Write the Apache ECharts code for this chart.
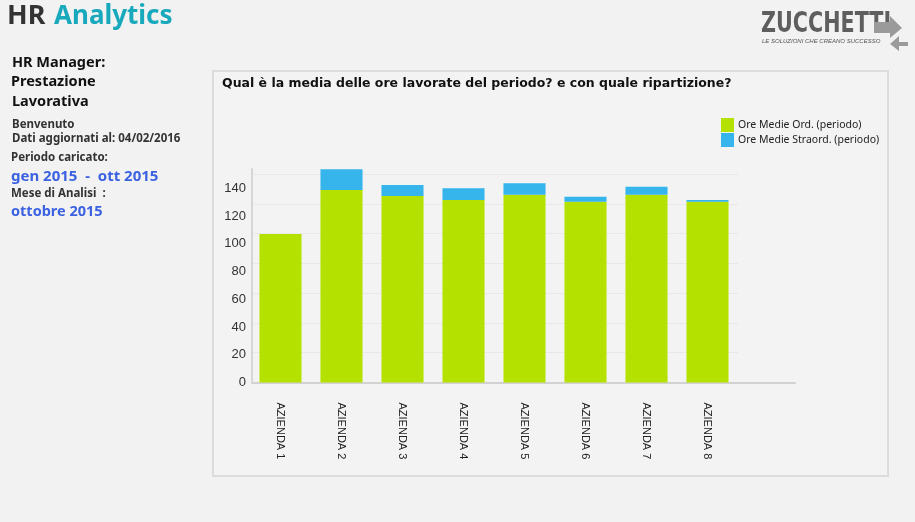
<!DOCTYPE html>
<html>
<head>
<meta charset="utf-8">
<style>
  html, body { margin: 0; padding: 0; background: #f2f2f2; }
  #chart { width: 915px; height: 522px; }
</style>
<script src="https://cdn.jsdelivr.net/npm/echarts@6/dist/echarts.min.js"></script>
</head>
<body>
<div id="chart"></div>
<script>
const categories = ['AZIENDA 1','AZIENDA 2','AZIENDA 3','AZIENDA 4','AZIENDA 5','AZIENDA 6','AZIENDA 7','AZIENDA 8'];
const oreOrdinarie = [107.1, 138.8, 134.5, 131.6, 135.4, 130.4, 135.4, 130.4];
const oreStraordinarie = [0, 15.1, 7.9, 8.6, 8.4, 3.6, 5.8, 1.2];
const seriesNames = ['Ore Medie Ord. (periodo)', 'Ore Medie Straord. (periodo)'];
const yTickInterval = 20;
const yMax = 154;

const chart = echarts.init(document.getElementById('chart'), null, { renderer: 'canvas' });
const sideFont = '"Noto Sans", "Open Sans", sans-serif';
const blue = '#3b62e0';

const option = {
  backgroundColor: '#f2f2f2',
  animation: false,
  graphic: [
    { type: 'rect', z: -10, shape: { x: 213, y: 71, width: 675, height: 405 },
      style: { fill: '#f3f3f3', stroke: '#dcdcdc', lineWidth: 2 } },
    { type: 'text', left: 7, top: 3, style: { text: 'HR', font: 'bold 27px ' + sideFont, fill: '#333333' } },
    { type: 'text', left: 54, top: 4, style: { text: 'Analytics', font: 'bold 26px ' + sideFont, fill: '#19a9bd' } },
    { type: 'text', left: 12, top: 55, style: { text: 'HR Manager:', font: 'bold 14.5px ' + sideFont, fill: '#111' } },
    { type: 'text', left: 11, top: 74, style: { text: 'Prestazione', font: 'bold 14.5px ' + sideFont, fill: '#111' } },
    { type: 'text', left: 12, top: 94, style: { text: 'Lavorativa', font: 'bold 14.5px ' + sideFont, fill: '#111' } },
    { type: 'text', left: 12, top: 119, style: { text: 'Benvenuto', font: 'bold 11.5px ' + sideFont, fill: '#333' } },
    { type: 'text', left: 12, top: 133, style: { text: 'Dati aggiornati al: 04/02/2016', font: 'bold 11.5px ' + sideFont, fill: '#333' } },
    { type: 'text', left: 11, top: 152, style: { text: 'Periodo caricato:', font: 'bold 11.5px ' + sideFont, fill: '#333' } },
    { type: 'text', left: 11, top: 169, style: { text: 'gen 2015  -  ott 2015', font: 'bold 15px ' + sideFont, fill: blue } },
    { type: 'text', left: 11, top: 188, style: { text: 'Mese di Analisi  :', font: 'bold 11.5px ' + sideFont, fill: '#333' } },
    { type: 'text', left: 11, top: 204, style: { text: 'ottobre 2015', font: 'bold 14.5px ' + sideFont, fill: blue } },
    { type: 'text', left: 222, top: 77, style: { text: 'Qual è la media delle ore lavorate del periodo? e con quale ripartizione?', font: 'bold 12.5px "DejaVu Sans", sans-serif', fill: '#111' } },
    // logo
    { type: 'text', x: 761, y: 11, scaleY: 1.2, style: { text: 'ZUCCHETTI', font: 'bold 23px "Liberation Sans Narrow", "DejaVu Sans Condensed", sans-serif', fill: '#5e5e5e' } },
    { type: 'text', left: 762, top: 38, style: { text: 'LE SOLUZIONI CHE CREANO SUCCESSO', font: 'italic 6px "Liberation Sans Narrow", sans-serif', fill: '#555' } },
    { type: 'polygon', shape: { points: [[874, 22], [890, 22], [890, 16], [902, 28], [890, 38], [890, 33], [874, 33]] }, style: { fill: '#9a9a9a' } },
    { type: 'polygon', shape: { points: [[908, 42], [899, 42], [899, 36], [890, 44], [899, 51], [899, 46], [908, 46]] }, style: { fill: '#9a9a9a' } }
  ],
  legend: {
    orient: 'vertical', left: 721, top: 118, padding: 0, itemWidth: 13, itemHeight: 14, itemGap: 1,
    icon: 'rect', data: seriesNames,
    textStyle: { fontFamily: sideFont, fontSize: 10.5, color: '#222', padding: [0, 0, 0, -1] }
  },
  grid: [
    { left: 250, top: 169, width: 488, height: 213.5 },
    { left: 252, top: 174, width: 486, height: 208.5 },
    { left: 252, top: 169, width: 543, height: 213.5 }
  ],
  xAxis: [
    { type: 'category', gridIndex: 0, data: categories,
      axisLine: { show: false }, axisTick: { show: false },
      axisLabel: { rotate: -90, margin: 20, fontFamily: '"Liberation Sans", Arial, sans-serif', fontSize: 11, color: '#222' } },
    { type: 'value', gridIndex: 1, show: false },
    { type: 'value', gridIndex: 2, min: 0, max: 1,
      axisLine: { show: true, lineStyle: { color: '#d2d2d2', width: 2 } },
      axisTick: { show: false }, axisLabel: { show: false }, splitLine: { show: false } }
  ],
  yAxis: [
    { type: 'value', gridIndex: 0, min: 0, max: yMax, interval: yTickInterval,
      axisLine: { show: false }, axisTick: { show: false },
      axisLabel: { showMaxLabel: false, margin: 4, fontFamily: '"Liberation Sans", Arial, sans-serif', fontSize: 13, color: '#333' },
      splitLine: { show: false } },
    { type: 'value', gridIndex: 1, min: 0, max: 7, interval: 1,
      axisLine: { show: false }, axisTick: { show: false }, axisLabel: { show: false },
      splitLine: { show: true, lineStyle: { color: '#e8e8e8', width: 1 } } },
    { type: 'value', gridIndex: 2, min: 0, max: 1,
      axisLine: { show: true, lineStyle: { color: '#d6d6d6', width: 2 } },
      axisTick: { show: false }, axisLabel: { show: false }, splitLine: { show: false } }
  ],
  series: [
    { name: seriesNames[0], type: 'bar', stack: 'ore', xAxisIndex: 0, yAxisIndex: 0,
      data: oreOrdinarie, barCategoryGap: '31%', itemStyle: { color: '#b4e100' } },
    { name: seriesNames[1], type: 'bar', stack: 'ore', xAxisIndex: 0, yAxisIndex: 0,
      data: oreStraordinarie, barCategoryGap: '31%', itemStyle: { color: '#36b5ec' } }
  ]
};
chart.setOption(option);
</script>
</body>
</html>
